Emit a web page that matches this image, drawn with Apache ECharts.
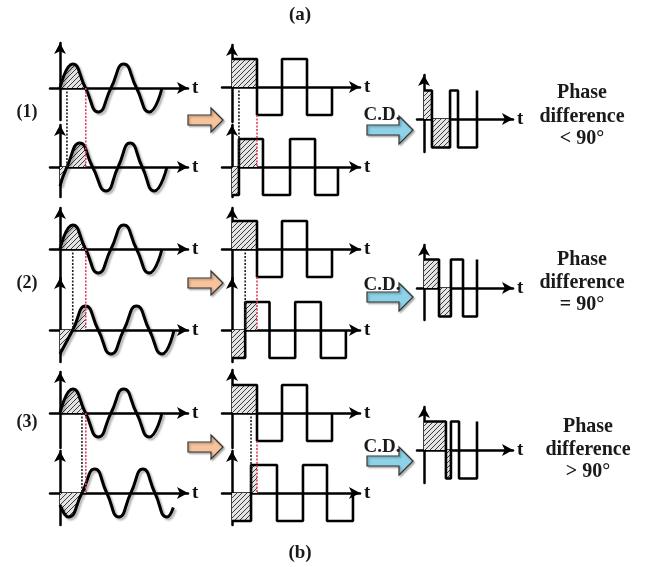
<!DOCTYPE html>
<html>
<head>
<meta charset="utf-8">
<script src="https://cdn.jsdelivr.net/npm/echarts@6/dist/echarts.min.js"></script>
<style>
  html, body { margin: 0; padding: 0; background: #fff; }
  #chart { width: 651px; height: 567px; }
</style>
</head>
<body>
<div id="chart"></div>
<script>
// values, x in degrees of phase, y as normalised amplitude
const rowLabels = ["(1)", "(2)", "(3)"];
const phaseSigns = ["< 90°", "= 90°", "> 90°"];

const sineTop = [[0, 0], [90, 1], [180, 0], [270, -1], [360, 0], [450, 1], [540, 0], [630, -1], [720, 0]];
const sineTopHatch = [[0, 0], [90, 1], [180, 0]];

const sineBot1 = [[0, -0.8], [49, 0], [140, 1], [230, 0], [325, -1], [410, 0], [495, 1], [580, 0], [665, -1], [755, 0]];
const sineBot1Hatch = [[0, -0.8], [49, 0], [140, 1], [183, 0.75]];
const sineBot2 = [[0, -1], [90, 0], [180, 1], [270, 0], [360, -1], [450, 0], [540, 1], [630, 0], [720, -1], [805, 0]];
const sineBot2Hatch = [[0, -1], [90, 0], [183, 1]];
const sineBot3 = [[0, -0.5], [60, -1], [155, 0], [245, 1], [330, 0], [415, -1], [500, 0], [585, 1], [670, 0], [755, -1], [800, -0.6]];
const sineBot3Hatch = [[0, -0.5], [60, -1], [155, 0], [183, 0.45]];

const squareTop = [[0, 1], [180, -1], [360, 1], [540, -1], [720, 0]];
const squareTopHatch = [[0, 1], [180, 0]];
const squareBot1 = [[0, -1], [50, 1], [223, -1], [418, 1], [598, -1], [763, 0]];
const squareBot1Hatch = [[0, -1], [50, 1], [180, 0]];
const squareBot2 = [[0, -1], [95, 1], [270, -1], [455, 1], [640, -1], [820, 0]];
const squareBot2Hatch = [[0, -1], [95, 1], [180, 0]];
const squareBot3 = [[0, -1], [137, 1], [324, -1], [511, 1], [684, -1], [871, 0]];
const squareBot3Hatch = [[0, -1], [137, 1], [180, 0]];

const comb1 = [[0, 1], [54, -1], [177, 1], [231, -1], [360, 1]];
const comb1Hatch = [[0, 1], [54, -1], [177, 0]];
const comb2 = [[0, 1], [102, -1], [183, 1], [265, -1], [360, 1]];
const comb2Hatch = [[0, 1], [102, -1], [183, 0]];
const comb3 = [[0, 1], [149, -1], [183, 1], [238, -1], [360, 1]];
const comb3Hatch = [[0, 1], [149, -1], [183, 0]];

// dotted guide positions (degrees): start of the lagging wave, and half period
const sineMarks = [49, 90, 155];
const squareMarks = [50, 95, 137];
const halfPeriod = 182;

const waves = [
  { sineBot: sineBot1, sineBotHatch: sineBot1Hatch, sqBot: squareBot1, sqBotHatch: squareBot1Hatch, comb: comb1, combHatch: comb1Hatch },
  { sineBot: sineBot2, sineBotHatch: sineBot2Hatch, sqBot: squareBot2, sqBotHatch: squareBot2Hatch, comb: comb2, combHatch: comb2Hatch },
  { sineBot: sineBot3, sineBotHatch: sineBot3Hatch, sqBot: squareBot3, sqBotHatch: squareBot3Hatch, comb: comb3, combHatch: comb3Hatch },
];

// layout in pixels: [axis top, zero line, axis bottom]
const rows = [
  { sineTop: [43, 88, 120], sineBot: [125, 167, 197], sqTop: [45, 87, 122], sqBot: [125, 167, 197], comb: [75, 119, 152],
    label: 112, arrow: 120, cd: 130, cdText: 115, text: [93, 117, 139], textX: 582 },
  { sineTop: [208, 249, 280], sineBot: [278, 330, 362], sqTop: [208, 249, 282], sqBot: [278, 330, 362], comb: [245, 288, 320],
    label: 283, arrow: 283, cd: 297, cdText: 285, text: [260, 283, 305], textX: 582 },
  { sineTop: [372, 413, 448], sineBot: [451, 493, 525], sqTop: [370, 413, 448], sqBot: [451, 493, 525], comb: [407, 450, 483],
    label: 422, arrow: 447, cd: 461, cdText: 447, text: [427, 450, 472], textX: 588 },
];

const kinds = {
  sine: { left: 50, origin: 60, right: 188, k: 25.5 / 180, amp: 24 },
  square: { left: 222, origin: 232, right: 360, k: 25 / 180, amp: 28 },
  comb: { left: 417, origin: 424, right: 513, k: 53 / 360, amp: 28.5 },
};

const FONT = '"Liberation Serif", "Times New Roman", serif';

function makeHatch() {
  const c = document.createElement("canvas");
  c.width = 5;
  c.height = 5;
  const g = c.getContext("2d");
  g.fillStyle = "#e4e4e4";
  g.fillRect(0, 0, 5, 5);
  g.strokeStyle = "#3c3c3c";
  g.lineWidth = 1;
  g.beginPath();
  g.moveTo(0, 5); g.lineTo(5, 0);
  g.moveTo(-1, 1); g.lineTo(1, -1);
  g.moveTo(4, 6); g.lineTo(6, 4);
  g.stroke();
  return c;
}
const hatch = { image: makeHatch(), repeat: "repeat" };

const grids = [], xAxes = [], yAxes = [], series = [];

function addPanel(kind, ys, main, hatchData, smooth) {
  const k = kinds[kind];
  const idx = grids.length;
  grids.push({ left: k.left, top: ys[0], width: k.right - k.left, height: ys[2] - ys[0], containLabel: false });
  const axisLine = { show: true, symbol: ["none", "arrow"], symbolSize: [9, 11], lineStyle: { color: "#000", width: 2.5 } };
  xAxes.push({
    gridIndex: idx, type: "value",
    min: -(k.origin - k.left) / k.k, max: (k.right - k.origin) / k.k,
    axisLine: axisLine, axisTick: { show: false }, axisLabel: { show: false }, splitLine: { show: false },
    name: "t", nameLocation: "end", nameGap: 4,
    nameTextStyle: { fontFamily: FONT, fontWeight: "bold", fontSize: 19, color: "#111", padding: [0, 0, 2, 0] },
  });
  yAxes.push({
    gridIndex: idx, type: "value",
    min: -(ys[2] - ys[1]) / k.amp, max: (ys[1] - ys[0]) / k.amp,
    axisLine: axisLine, axisTick: { show: false }, axisLabel: { show: false }, splitLine: { show: false },
  });
  const common = { type: "line", xAxisIndex: idx, yAxisIndex: idx, showSymbol: false, silent: true, animation: false };
  if (smooth) common.smooth = 0.55; else common.step = "end";
  series.push(Object.assign({}, common, {
    data: hatchData, z: 1, lineStyle: { width: 0 }, areaStyle: { color: hatch, opacity: 1 },
  }));
  series.push(Object.assign({}, common, {
    data: main, z: 3,
    lineStyle: smooth
      ? { color: "#000", width: 3, shadowColor: "rgba(0,0,0,0.3)", shadowBlur: 2, shadowOffsetX: 2, shadowOffsetY: 2 }
      : { color: "#000", width: 2.6 },
  }));
  return idx;
}

const panelIdx = [];
rows.forEach(function (r, i) {
  const w = waves[i];
  panelIdx.push({
    sineTop: addPanel("sine", r.sineTop, sineTop, sineTopHatch, true),
    sineBot: addPanel("sine", r.sineBot, w.sineBot, w.sineBotHatch, true),
    sqTop: addPanel("square", r.sqTop, squareTop, squareTopHatch, false),
    sqBot: addPanel("square", r.sqBot, w.sqBot, w.sqBotHatch, false),
    comb: addPanel("comb", r.comb, w.comb, w.combHatch, false),
  });
});

function text(str, x, y, size) {
  return {
    type: "text", x: x, y: y, z: 10,
    style: { text: str, font: "bold " + size + "px " + FONT, fill: "#1a1a1a", align: "center", verticalAlign: "middle", textAlign: "center", textVerticalAlign: "middle" },
  };
}
function arrow(x0, xb, xt, y, bh, hh, fill) {
  return {
    type: "polygon", z: 10,
    shape: { points: [[x0, y - bh], [xb, y - bh], [xb, y - hh], [xt, y], [xb, y + hh], [xb, y + bh], [x0, y + bh]] },
    style: { fill: fill, stroke: "#333", lineWidth: 1.2, shadowColor: "rgba(0,0,0,0.3)", shadowBlur: 2, shadowOffsetX: 1.5, shadowOffsetY: 1.5 },
  };
}

const graphics = [text("(a)", 300, 15, 19), text("(b)", 300, 553, 19)];
rows.forEach(function (r, i) {
  graphics.push(text(rowLabels[i], 27, r.label, 18));
  graphics.push(arrow(188, 211, 223, r.arrow, 5, 12, "#f6c39c"));
  graphics.push(arrow(367, 399, 413, r.cd, 5, 14, "#8dd2e6"));
  graphics.push(text("C.D.", 382, r.cdText, 19));
  graphics.push(text("Phase", r.textX, r.text[0], 20));
  graphics.push(text("difference", r.textX, r.text[1], 20));
  graphics.push(text(phaseSigns[i], r.textX, r.text[2], 20));
});

const chart = echarts.init(document.getElementById("chart"));
chart.setOption({ animation: false, grid: grids, xAxis: xAxes, yAxis: yAxes, series: series, graphic: graphics });

// dotted guides joining the upper and lower waves
function vline(top, bot, x, yTop, color) {
  const a = chart.convertToPixel({ gridIndex: top }, [x, yTop]);
  const b = chart.convertToPixel({ gridIndex: bot }, [x, 0]);
  return {
    type: "line", z: 5,
    shape: { x1: a[0], y1: a[1], x2: a[0], y2: b[1] },
    style: { stroke: color, lineWidth: 1.6, lineDash: [2, 1.5] },
  };
}
panelIdx.forEach(function (p, i) {
  graphics.push(vline(p.sineTop, p.sineBot, sineMarks[i], 0, "#222"));
  graphics.push(vline(p.sineTop, p.sineBot, halfPeriod, 0, "#e0405a"));
  graphics.push(vline(p.sqTop, p.sqBot, squareMarks[i], 0, "#222"));
  graphics.push(vline(p.sqTop, p.sqBot, 180, -1, "#e0405a"));
});
chart.setOption({ graphic: graphics });
</script>
</body>
</html>
